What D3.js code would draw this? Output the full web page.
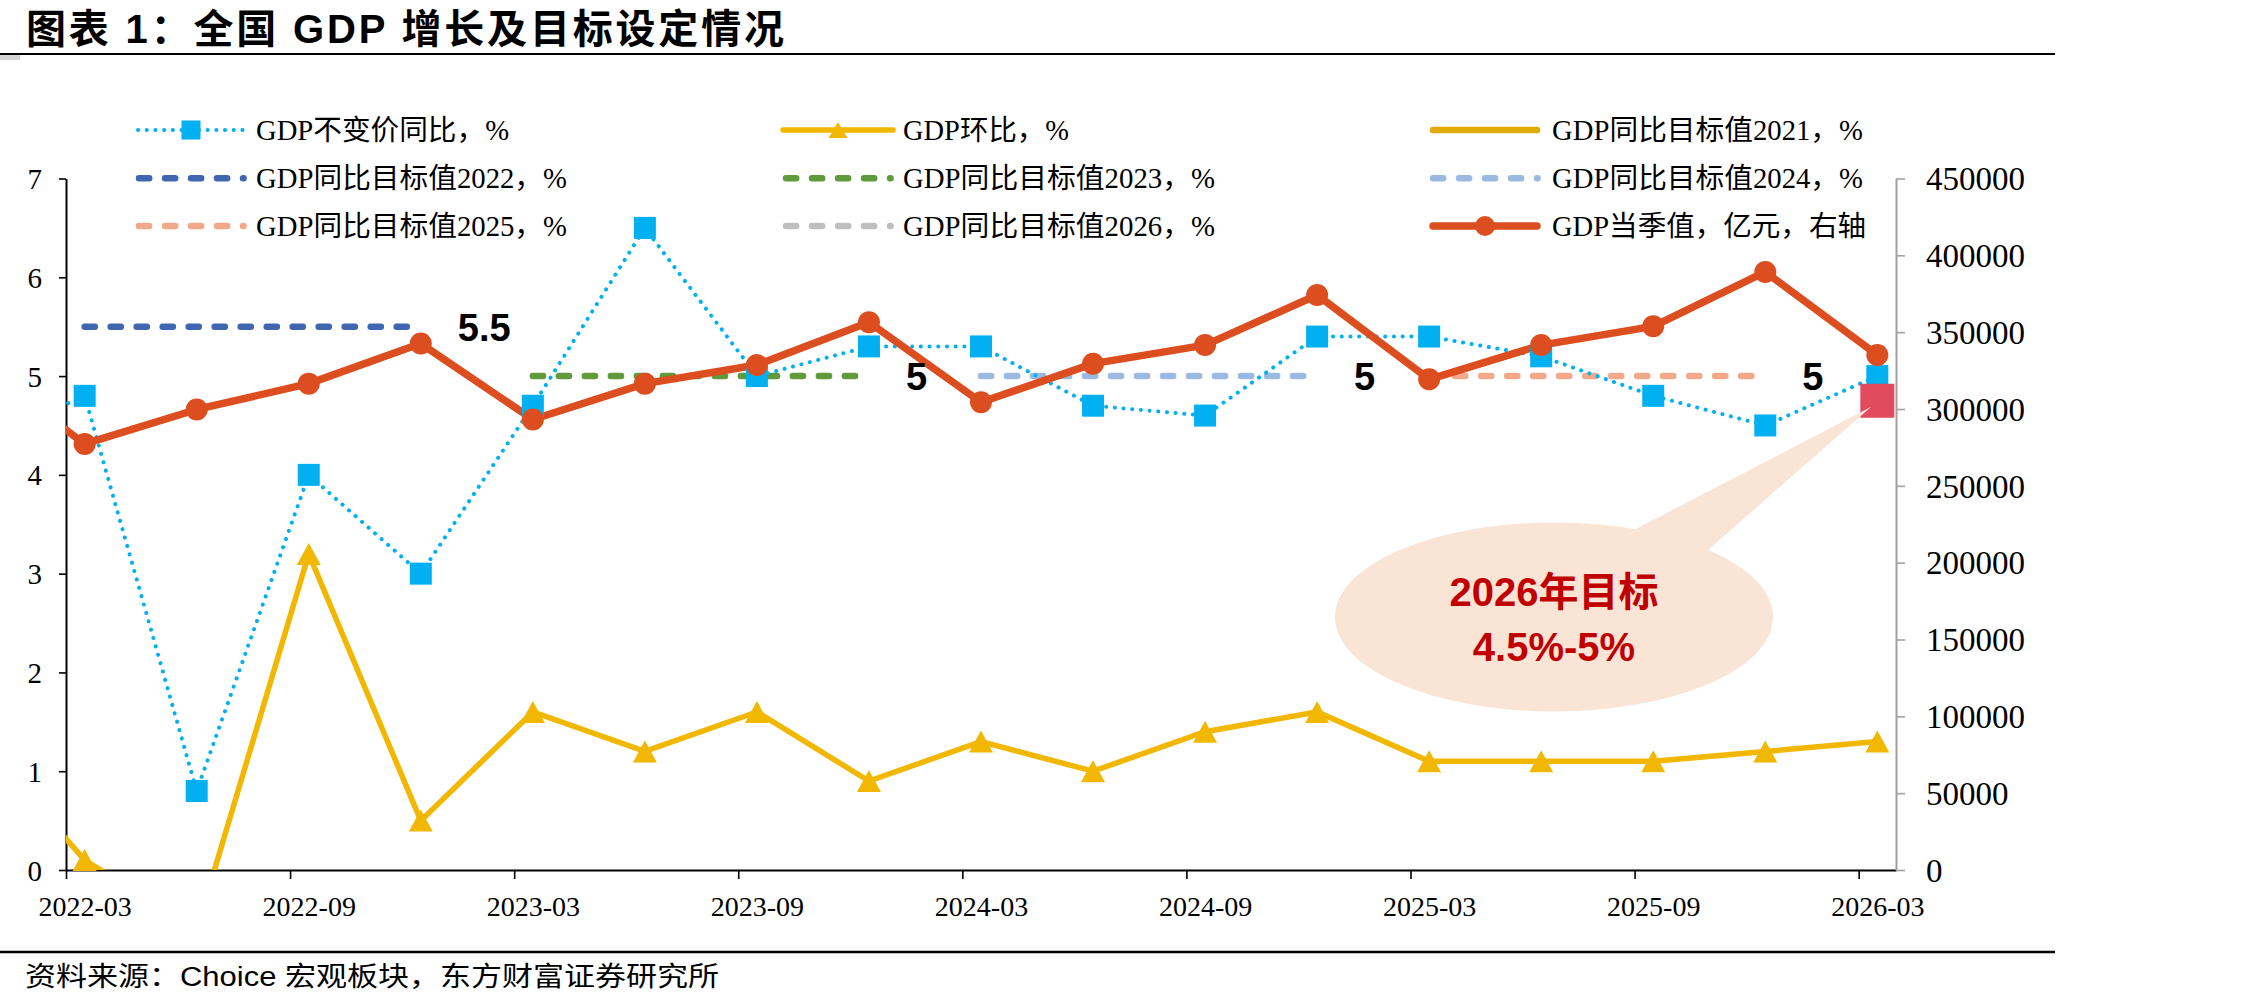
<!DOCTYPE html>
<html><head><meta charset="utf-8">
<script src="https://cdn.jsdelivr.net/npm/d3@7"></script>
<style>
html,body{margin:0;padding:0;background:#fff;}
svg{display:block;}
</style></head>
<body>
<svg id="chart" width="2245" height="1007"></svg>
<script>
// ---------------- DATA ----------------
const quarters = ['2021-12','2022-03','2022-06','2022-09','2022-12','2023-03','2023-06','2023-09','2023-12',
                  '2024-03','2024-06','2024-09','2024-12','2025-03','2025-06','2025-09','2025-12','2026-03'];
const gdpYoY   = [4.3, 4.8, 0.8, 4.0, 3.0, 4.7, 6.5, 5.0, 5.3, 5.3, 4.7, 4.6, 5.4, 5.4, 5.2, 4.8, 4.5, 5.0];
const gdpQoQ   = [1.4, 0.1, -0.6, 3.2, 0.5, 1.6, 1.2, 1.6, 0.9, 1.3, 1.0, 1.4, 1.6, 1.1, 1.1, 1.1, 1.2, 1.3];
const gdpQuarterValue = [332000, 277300, 299700, 316500, 342600, 293200, 316500, 328600, 356500,
                         304400, 329500, 341600, 374200, 319300, 341600, 353800, 389200, 335100];
const targetYears  = [2021, 2022, 2023, 2024, 2025, 2026];
const targetValues = [6, 5.5, 5, 5, 5, 4.75];
const targetLabels = ['', '5.5', '5', '5', '5', ''];
const xTickLabels  = ['2022-03','2022-09','2023-03','2023-09','2024-03','2024-09','2025-03','2025-09','2026-03'];
const leftTicks    = [0, 1, 2, 3, 4, 5, 6, 7];
const rightTicks   = [0, 50000, 100000, 150000, 200000, 250000, 300000, 350000, 400000, 450000];
const legendNames  = ['GDP不变价同比，%', 'GDP环比，%', 'GDP同比目标值2021，%',
                      'GDP同比目标值2022，%', 'GDP同比目标值2023，%', 'GDP同比目标值2024，%',
                      'GDP同比目标值2025，%', 'GDP同比目标值2026，%', 'GDP当季值，亿元，右轴'];
const titleText  = '图表 1：全国 GDP 增长及目标设定情况';
const sourceText = '资料来源：Choice 宏观板块，东方财富证券研究所';
const calloutLines = ['2026年目标', '4.5%-5%'];

// ---------------- LAYOUT / STYLE ----------------
const plot = {left: 66, right: 1896, top: 178.5, bottom: 870};
const serif = "'Liberation Serif','Noto Sans CJK SC',serif";
const sans  = "'Liberation Sans','Noto Sans CJK SC',sans-serif";
const C = {
  yoy: '#00B0F0', qoq: '#F2B700', gdp: '#DC4E1F',
  t2021: '#E1AA06', t2022: '#4066B0', t2023: '#5F9A3B', t2024: '#9CBAE1', t2025: '#F2A98A', t2026: '#BFBFBF',
  marker2026: '#E24A5E', callout: '#FAE4D6', calloutText: '#C00000'
};
const targetColors = [C.t2021, C.t2022, C.t2023, C.t2024, C.t2025, C.t2026];
const dash = '10.2 15.8';

const svg = d3.select('#chart');
svg.append('rect').attr('width', 2245).attr('height', 1007).attr('fill', '#fff');

const x  = d3.scaleLinear().domain([0, 49]).range([plot.left, plot.right]);
const yL = d3.scaleLinear().domain([0, 7]).range([plot.bottom, plot.top]);
const yR = d3.scaleLinear().domain([0, 450000]).range([plot.bottom, plot.top]);
const mIdx = s => { const [y, m] = s.split('-').map(Number); return (y - 2022) * 12 + (m - 3); };
const px = s => x(mIdx(s) + 0.5);
const inRange = s => mIdx(s) >= 0 && mIdx(s) <= 48;

// ---------------- TITLE / FOOTER ----------------
svg.append('text').attr('x', 26).attr('y', 43).attr('font-family', sans).attr('font-weight', 'bold')
  .attr('font-size', 40).attr('textLength', 758).attr('lengthAdjust', 'spacing').text(titleText);
svg.append('line').attr('x1', 0).attr('x2', 2055).attr('y1', 54).attr('y2', 54).attr('stroke', '#000').attr('stroke-width', 2);
svg.append('rect').attr('x', 0).attr('y', 55).attr('width', 20).attr('height', 5).attr('fill', '#D4D4D4');
svg.append('line').attr('x1', 0).attr('x2', 2055).attr('y1', 952).attr('y2', 952).attr('stroke', '#000').attr('stroke-width', 2.5);
svg.append('text').attr('x', 25).attr('y', 986).attr('font-family', sans).attr('font-size', 27)
  .attr('textLength', 694).attr('lengthAdjust', 'spacingAndGlyphs').text(sourceText);

// ---------------- AXES ----------------
const xAxisG = svg.append('g').attr('transform', `translate(0,${plot.bottom})`)
  .call(d3.axisBottom(x).tickValues(xTickLabels.map(mIdx)).tickFormat('').tickSize(9).tickSizeOuter(0));
xAxisG.select('.domain').attr('stroke', '#000').attr('stroke-width', 2.2);
xAxisG.selectAll('.tick line').attr('stroke', '#000').attr('stroke-width', 1.6);

const xLabG = svg.append('g').attr('transform', `translate(0,${plot.bottom})`)
  .call(d3.axisBottom(x).tickValues(xTickLabels.map(s => mIdx(s) + 0.5)).tickFormat((d, i) => xTickLabels[i]).tickSize(0));
xLabG.select('.domain').remove();
xLabG.selectAll('text').attr('y', 46).attr('dy', null).attr('font-family', serif).attr('font-size', 28).attr('fill', '#000');

const yLG = svg.append('g').attr('transform', `translate(${plot.left},0)`)
  .call(d3.axisLeft(yL).tickValues(leftTicks).tickFormat(d3.format('d')).tickSize(7).tickPadding(17).tickSizeOuter(0));
yLG.select('.domain').attr('stroke', '#000').attr('stroke-width', 2);
yLG.selectAll('.tick line').attr('stroke', '#000').attr('stroke-width', 1.6);
yLG.selectAll('text').attr('dy', '0.345em').attr('font-family', serif).attr('font-size', 29).attr('fill', '#000');

const yRG = svg.append('g').attr('transform', `translate(${plot.right},0)`)
  .call(d3.axisRight(yR).tickValues(rightTicks).tickFormat(d3.format('d')).tickSize(9).tickPadding(21).tickSizeOuter(0));
yRG.select('.domain').attr('stroke', '#A0A0A0').attr('stroke-width', 2);
yRG.selectAll('.tick line').attr('stroke', '#A0A0A0').attr('stroke-width', 1.6);
yRG.selectAll('text').attr('dy', '0.34em').attr('font-family', serif).attr('font-size', 33).attr('fill', '#000');

// ---------------- SERIES ----------------
svg.append('clipPath').attr('id', 'plotClip').append('rect')
  .attr('x', plot.left).attr('y', plot.top - 20).attr('width', plot.right - plot.left).attr('height', plot.bottom - plot.top + 20);
const lines = svg.append('g').attr('clip-path', 'url(#plotClip)');
const marks = svg.append('g');

// target lines
targetYears.forEach((yr, i) => {
  const dates = ['03', '06', '09', '12'].map(m => `${yr}-${m}`);
  const pts = dates.map(d => [px(d), yL(targetValues[i])]);
  lines.append('path').attr('d', d3.line()(pts)).attr('fill', 'none')
    .attr('stroke', targetColors[i]).attr('stroke-width', 6.5)
    .attr('stroke-dasharray', i === 0 ? null : dash).attr('stroke-linecap', 'round');
  if (targetLabels[i]) {
    const last = dates[3];
    marks.append('text').attr('x', px(last) + 37).attr('y', yL(targetValues[i]) + 14)
      .attr('font-family', sans).attr('font-weight', 'bold').attr('font-size', 38).attr('fill', '#000')
      .text(targetLabels[i]);
  }
});

// QoQ (yellow)
lines.append('path').attr('d', d3.line().x((d, i) => px(quarters[i])).y(d => yL(d))(gdpQoQ))
  .attr('fill', 'none').attr('stroke', C.qoq).attr('stroke-width', 5.5).attr('stroke-linejoin', 'miter');
const tri = 'M0,-11L12,11L-12,11Z';
marks.selectAll('.tri').data(gdpQoQ.map((v, i) => ({v, d: quarters[i]})).filter(p => inRange(p.d) && p.v >= 0))
  .join('path').attr('d', tri).attr('fill', C.qoq)
  .attr('transform', p => `translate(${px(p.d)},${yL(p.v)})`);

// YoY (blue dotted)
lines.append('path').attr('d', d3.line().x((d, i) => px(quarters[i])).y(d => yL(d))(gdpYoY))
  .attr('fill', 'none').attr('stroke', C.yoy).attr('stroke-width', 4)
  .attr('stroke-dasharray', '0.1 8.6').attr('stroke-linecap', 'round');
marks.selectAll('.sq').data(gdpYoY.map((v, i) => ({v, d: quarters[i]})).filter(p => inRange(p.d)))
  .join('rect').attr('x', p => px(p.d) - 11).attr('y', p => yL(p.v) - 11)
  .attr('width', 22).attr('height', 22).attr('fill', C.yoy);

// GDP quarterly value (orange, right axis)
lines.append('path').attr('d', d3.line().x((d, i) => px(quarters[i])).y(d => yR(d))(gdpQuarterValue))
  .attr('fill', 'none').attr('stroke', C.gdp).attr('stroke-width', 7.5).attr('stroke-linejoin', 'round');
marks.selectAll('.ci').data(gdpQuarterValue.map((v, i) => ({v, d: quarters[i]})).filter(p => inRange(p.d)))
  .join('circle').attr('cx', p => px(p.d)).attr('cy', p => yR(p.v)).attr('r', 11).attr('fill', C.gdp);

// 2026 target marker
const last26 = '2026-03';
marks.append('rect').attr('x', px(last26) - 17).attr('y', yL(targetValues[5]) - 17)
  .attr('width', 34).attr('height', 34).attr('fill', C.marker2026);

// ---------------- CALLOUT ----------------
const co = svg.append('g');
const ecx = 1554, ecy = 617, erx = 219, ery = 94.5;
co.append('path').attr('d', `M1632,531 L${px(last26) - 6},${yL(targetValues[5]) + 6} L1708,550 Z`).attr('fill', C.callout);
co.append('ellipse').attr('cx', ecx).attr('cy', ecy).attr('rx', erx).attr('ry', ery).attr('fill', C.callout);
co.selectAll('text').data(calloutLines).join('text')
  .attr('x', ecx).attr('y', (d, i) => 606 + i * 55).attr('text-anchor', 'middle')
  .attr('font-family', sans).attr('font-weight', 'bold').attr('font-size', 40).attr('fill', C.calloutText)
  .text(d => d);

// ---------------- LEGEND ----------------
const colX = [136, 783, 1430];
const colTextX = [256, 903, 1552];
const rowY = [130, 178.3, 226];
const legendWidths = [253, 166, 311, 311, 312, 311, 311, 312, 314];
const lg = svg.append('g');
legendNames.forEach((name, i) => {
  const r = Math.floor(i / 3), c = i % 3;
  const y = rowY[r], x0 = colX[c], x1 = x0 + 110, xm = (x0 + x1) / 2;
  if (i === 0) {
    lg.append('line').attr('x1', x0 + 2).attr('x2', x1 - 2).attr('y1', y).attr('y2', y)
      .attr('stroke', C.yoy).attr('stroke-width', 4).attr('stroke-dasharray', '0.1 8.6').attr('stroke-linecap', 'round');
    lg.append('rect').attr('x', xm - 9.5).attr('y', y - 9.5).attr('width', 19).attr('height', 19).attr('fill', C.yoy);
  } else if (i === 1) {
    lg.append('line').attr('x1', x0).attr('x2', x1).attr('y1', y).attr('y2', y)
      .attr('stroke', C.qoq).attr('stroke-width', 5.5).attr('stroke-linecap', 'round');
    lg.append('path').attr('d', 'M0,-8L9.5,8L-9.5,8Z').attr('fill', C.qoq).attr('transform', `translate(${xm},${y})`);
  } else if (i === 2) {
    lg.append('line').attr('x1', x0 + 3).attr('x2', x1 - 3).attr('y1', y).attr('y2', y)
      .attr('stroke', C.t2021).attr('stroke-width', 6.7).attr('stroke-linecap', 'round');
  } else if (i === 8) {
    lg.append('line').attr('x1', x0 + 3).attr('x2', x1 - 3).attr('y1', y).attr('y2', y)
      .attr('stroke', C.gdp).attr('stroke-width', 7.5).attr('stroke-linecap', 'round');
    lg.append('circle').attr('cx', xm).attr('cy', y).attr('r', 10).attr('fill', C.gdp);
  } else {
    const col = targetColors[i - 2];
    lg.append('line').attr('x1', x0 + 3).attr('x2', x0 + 107.6).attr('y1', y).attr('y2', y)
      .attr('stroke', col).attr('stroke-width', 6.5).attr('stroke-dasharray', dash).attr('stroke-linecap', 'round');
  }
  lg.append('text').attr('x', colTextX[c]).attr('y', y + 9.5).attr('font-family', serif).attr('font-size', 28.5)
    .attr('fill', '#000').attr('textLength', legendWidths[i]).attr('lengthAdjust', 'spacingAndGlyphs').text(name);
});
</script>
</body></html>
